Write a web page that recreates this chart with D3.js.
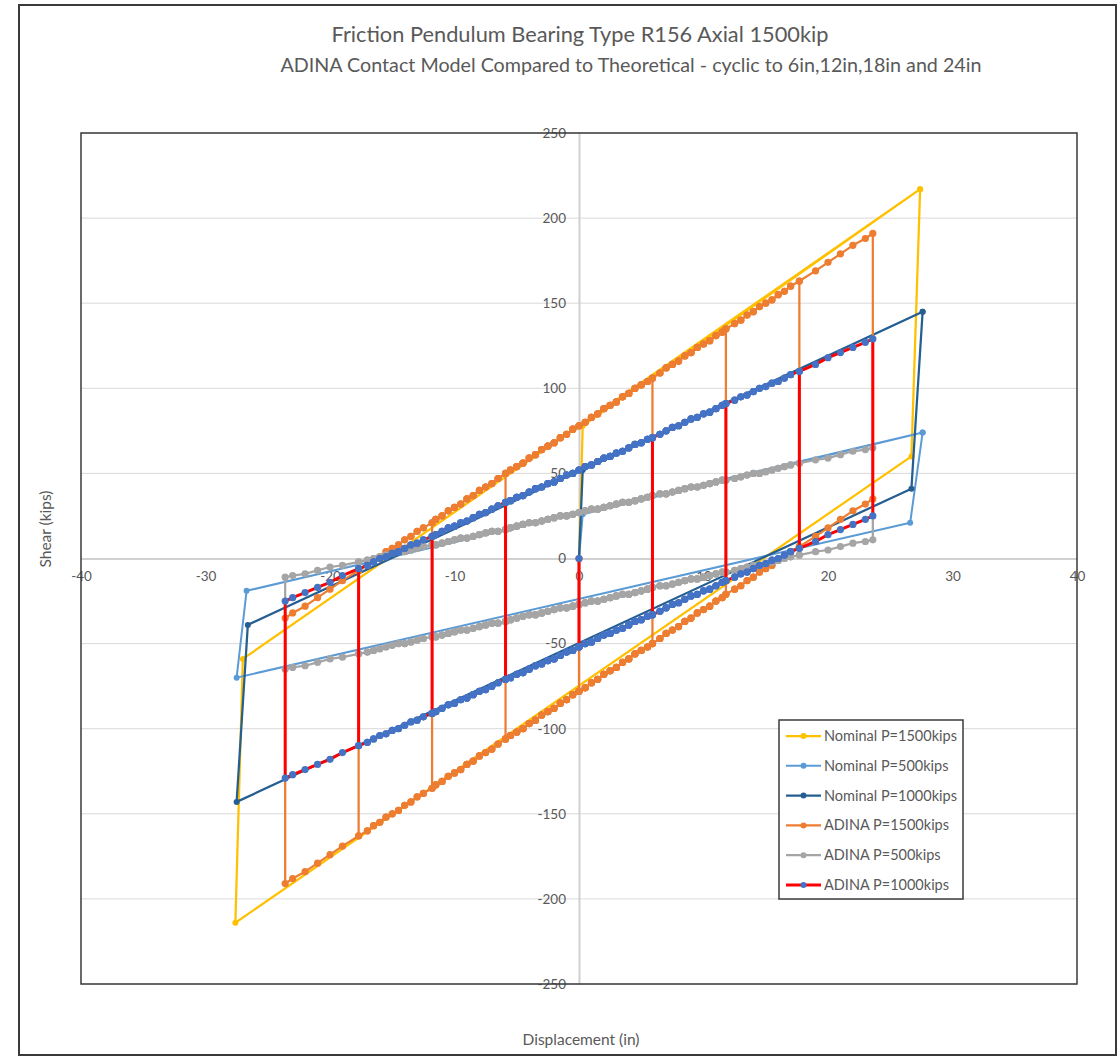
<!DOCTYPE html>
<html>
<head>
<meta charset="utf-8">
<script src="https://cdn.jsdelivr.net/npm/d3@7"></script>
<style>
  body { margin: 0; background: #fff; }
  text { font-family: Lato, "Open Sans", sans-serif; fill: #595959; }
</style>
</head>
<body>
<svg width="1118" height="1057"></svg>
<script>
// Nominal (theoretical) loops: corner points only
var nominalDisp1500 = [0, 0.3, 27.4, 26.7, -27.6, -27.0, 27.4];
var nominalShear1500 = [0, 78, 217, 60, -214, -59, 217];
var nominalDisp500 = [0, 0.3, 27.6, 26.6, -27.5, -26.7, 27.6];
var nominalShear500 = [0, 26, 74, 21, -70, -19, 74];
var nominalDisp1000 = [0, 0.3, 27.6, 26.7, -27.5, -26.6, 27.6];
var nominalShear1000 = [0, 52, 145, 41, -143, -39, 145];

// ADINA runs: cyclic amplitudes and the shear read on each branch at the sampled displacements
var adinaAmps = [5.9, 11.8, 17.7, 23.6];
var adinaDisp = [-23.6, -23, -22, -21, -20, -19, -17.7, -17, -16.5, -16, -15.5, -15, -14.5, -14, -13.5, -13, -12.5,
    -11.8, -11.5, -11, -10.5, -10, -9.5, -9, -8.5, -8, -7.5, -7, -6.5, -5.9, -5.5, -5, -4.5, -4, -3.5, -3, -2.5, -2,
    -1.5, -1, -0.5, 0, 0.5, 1, 1.5, 2, 2.5, 3, 3.5, 4, 4.5, 5, 5.5, 5.9, 6.5, 7, 7.5, 8, 8.5, 9, 9.5, 10, 10.5, 11,
    11.5, 11.8, 12.5, 13, 13.5, 14, 14.5, 15, 15.5, 16, 16.5, 17, 17.7, 19, 20, 21, 22, 23, 23.6];
var adina1500Upper = [-35, -32, -28, -23, -18, -13, -7, -4, -1, 1, 4, 6, 8, 11, 13, 16, 18, 21, 23, 25, 28, 30, 32, 35,
    37, 40, 42, 44, 47, 50, 52, 54, 56, 59, 61, 64, 66, 68, 71, 73, 76, 78, 80, 83, 85, 88, 90, 92, 95, 97, 100, 102, 104,
    106, 109, 112, 114, 116, 119, 121, 124, 126, 128, 131, 133, 135, 138, 140, 143, 145, 148, 150, 152, 155, 157, 160,
    163, 169, 174, 179, 184, 188, 191];
var adina1500Lower = [-191, -188, -184, -179, -174, -169, -163, -160, -157, -155, -152, -150, -148, -145, -143, -140, -138,
    -135, -133, -131, -128, -126, -124, -121, -119, -116, -114, -112, -109, -106, -104, -102, -100, -97, -95, -92, -90, -88,
    -85, -83, -80, -78, -76, -73, -71, -68, -66, -64, -61, -59, -56, -54, -52, -50, -47, -44, -42, -40, -37, -35, -32, -30,
    -28, -25, -23, -21, -18, -16, -13, -11, -8, -6, -4, -1, 1, 4, 7, 13, 18, 23, 28, 32, 35];
var adina500Upper = [-11, -10, -9, -7, -5, -4, -2, -1, 0, 1, 2, 3, 4, 4, 5, 6, 7, 8, 8, 9, 10, 11, 12, 12, 13, 14, 15, 16,
    16, 17, 18, 19, 20, 21, 21, 22, 23, 24, 25, 25, 26, 27, 28, 29, 29, 30, 31, 32, 33, 33, 34, 35, 36, 37, 38, 38, 39, 40,
    41, 42, 42, 43, 44, 45, 46, 46, 47, 48, 49, 50, 50, 51, 52, 53, 54, 55, 56, 58, 59, 61, 63, 64, 65];
var adina500Lower = [-65, -64, -63, -61, -59, -58, -56, -55, -54, -53, -52, -51, -50, -50, -49, -48, -47, -46, -46, -45, -44,
    -43, -42, -42, -41, -40, -39, -38, -38, -37, -36, -35, -34, -33, -33, -32, -31, -30, -29, -29, -28, -27, -26, -25, -25,
    -24, -23, -22, -21, -21, -20, -19, -18, -17, -16, -16, -15, -14, -13, -12, -12, -11, -10, -9, -8, -8, -7, -6, -5, -4,
    -4, -3, -2, -1, 0, 1, 2, 4, 5, 7, 9, 10, 11];
var adina1000Upper = [-25, -23, -20, -17, -14, -10, -6, -4, -2, 0, 1, 3, 4, 6, 8, 9, 11, 13, 14, 16, 18, 19, 21, 22, 24,
    26, 27, 29, 31, 33, 34, 36, 37, 39, 41, 42, 44, 45, 47, 49, 50, 52, 54, 55, 57, 59, 60, 62, 63, 65, 67, 68, 70, 71, 73,
    75, 77, 78, 80, 82, 83, 85, 86, 88, 90, 91, 93, 95, 96, 98, 100, 101, 103, 104, 106, 108, 110, 114, 118, 121, 124,
    127, 129];
var adina1000Lower = [-129, -127, -124, -121, -118, -114, -110, -108, -106, -104, -103, -101, -100, -98, -96, -95, -93, -91,
    -90, -88, -86, -85, -83, -82, -80, -78, -77, -75, -73, -71, -70, -68, -67, -65, -63, -62, -60, -59, -57, -55, -54, -52,
    -50, -49, -47, -45, -44, -42, -41, -39, -37, -36, -34, -33, -31, -29, -27, -26, -24, -22, -21, -19, -18, -16, -14, -13,
    -11, -9, -8, -6, -4, -3, -1, 0, 2, 4, 6, 10, 14, 17, 20, 23, 25];

var seriesNames = ["Nominal P=1500kips", "Nominal P=500kips", "Nominal P=1000kips",
    "ADINA P=1500kips", "ADINA P=500kips", "ADINA P=1000kips"];
var xTicks = [-40, -30, -20, -10, 0, 10, 20, 30, 40];
var yTicks = [-250, -200, -150, -100, -50, 0, 50, 100, 150, 200, 250];

(function() {
var svg = d3.select("svg");

var pLeft = 81, pRight = 1077, pTop = 133, pBottom = 984;
var x = d3.scaleLinear().domain([-40, 40]).range([pLeft, pRight]);
var y = d3.scaleLinear().domain([-250, 250]).range([pBottom, pTop]);

// outer chart border
svg.append("rect").attr("x", 19).attr("y", 5).attr("width", 1097).attr("height", 1050)
    .attr("fill", "#fff").attr("stroke", "#3a3a3a").attr("stroke-width", 2);

// titles
svg.append("text").attr("x", 580).attr("y", 42).attr("text-anchor", "middle").attr("font-size", 20.5)
    .attr("textLength", 497).attr("lengthAdjust", "spacingAndGlyphs")
    .text("Friction Pendulum Bearing Type R156 Axial 1500kip");
svg.append("text").attr("x", 631).attr("y", 72).attr("text-anchor", "middle").attr("font-size", 20)
    .attr("textLength", 701).attr("lengthAdjust", "spacingAndGlyphs")
    .text("ADINA Contact Model Compared to Theoretical - cyclic to 6in,12in,18in and 24in");

// gridlines
svg.append("g").selectAll("line").data(yTicks).enter().append("line")
    .attr("x1", pLeft).attr("x2", pRight)
    .attr("y1", d => y(d)).attr("y2", d => y(d))
    .attr("stroke", "#d9d9d9").attr("stroke-width", 1);

// axes through the origin
var xAxis = svg.append("g").attr("transform", "translate(0," + y(0) + ")")
    .call(d3.axisBottom(x).tickValues(xTicks).tickFormat(d => String(d)).tickSize(0).tickPadding(13));
var yAxis = svg.append("g").attr("transform", "translate(" + x(0) + ",0)")
    .call(d3.axisLeft(y).tickValues(yTicks).tickFormat(d => String(d)).tickSize(0).tickPadding(13));
[xAxis, yAxis].forEach(function(a) {
    a.select(".domain").attr("stroke", "#d0d0d0").attr("stroke-width", 2);
    a.selectAll("text").attr("font-family", "Lato, sans-serif").attr("font-size", 13.5).attr("fill", "#595959");
});

// plot area border
svg.append("rect").attr("x", pLeft).attr("y", pTop).attr("width", pRight - pLeft).attr("height", pBottom - pTop)
    .attr("fill", "none").attr("stroke", "#3a3a3a").attr("stroke-width", 1.5);

// axis titles
svg.append("text").attr("transform", "translate(51,529) rotate(-90)").attr("text-anchor", "middle")
    .attr("font-size", 15.5).text("Shear (kips)");
svg.append("text").attr("x", 581).attr("y", 1045).attr("text-anchor", "middle")
    .attr("font-size", 15.5).text("Displacement (in)");

function zipPts(xs, ys) {
    return xs.map((d, i) => [d, ys[i]]);
}

// walk the branches: start at 0, go negative first, alternate through the amplitudes, return to 0
function buildLoop(upper, lower) {
    var pts = [[0, 0]];
    var turns = [];
    adinaAmps.forEach(a => { turns.push(-a); turns.push(a); });
    turns.push(0);
    var pos = 0;
    turns.forEach(function(t) {
        var down = t < pos;
        var lo = Math.min(pos, t), hi = Math.max(pos, t);
        var idx = d3.range(adinaDisp.length).filter(i => adinaDisp[i] >= lo && adinaDisp[i] <= hi);
        if (down) idx.reverse();
        idx.forEach(i => pts.push([adinaDisp[i], down ? lower[i] : upper[i]]));
        pos = t;
    });
    return pts;
}

var series = [
    { name: seriesNames[0], pts: zipPts(nominalDisp1500, nominalShear1500), line: "#ffc000", marker: "#ffc000", w: 2.25, r: 3 },
    { name: seriesNames[1], pts: zipPts(nominalDisp500, nominalShear500), line: "#5b9bd5", marker: "#5b9bd5", w: 2, r: 3 },
    { name: seriesNames[2], pts: zipPts(nominalDisp1000, nominalShear1000), line: "#255e91", marker: "#255e91", w: 2.25, r: 3 },
    { name: seriesNames[3], pts: buildLoop(adina1500Upper, adina1500Lower), line: "#ed7d31", marker: "#ed7d31", w: 2.25, r: 3.6 },
    { name: seriesNames[4], pts: buildLoop(adina500Upper, adina500Lower), line: "#a5a5a5", marker: "#a5a5a5", w: 2.25, r: 3.6 },
    { name: seriesNames[5], pts: buildLoop(adina1000Upper, adina1000Lower), line: "#ff0000", marker: "#4472c4", w: 3, r: 3.6 }
];

var line = d3.line().x(d => x(d[0])).y(d => y(d[1]));

series.forEach(function(s) {
    var g = svg.append("g");
    g.append("path").datum(s.pts).attr("d", line)
        .attr("fill", "none").attr("stroke", s.line).attr("stroke-width", s.w)
        .attr("stroke-linejoin", "round");
    g.selectAll("circle").data(s.pts).enter().append("circle")
        .attr("cx", d => x(d[0])).attr("cy", d => y(d[1])).attr("r", s.r)
        .attr("fill", s.marker);
});

// legend
var legend = svg.append("g");
legend.append("rect").attr("x", 779).attr("y", 720).attr("width", 184).attr("height", 179)
    .attr("fill", "#fff").attr("stroke", "#3a3a3a").attr("stroke-width", 1.5);
var items = legend.selectAll("g.item").data(series).enter().append("g")
    .attr("class", "item")
    .attr("transform", (d, i) => "translate(0," + (736 + i * 29.8) + ")");
items.append("line").attr("x1", 786).attr("x2", 821).attr("y1", 0).attr("y2", 0)
    .attr("stroke", d => d.line).attr("stroke-width", d => d.w);
items.append("circle").attr("cx", 803.5).attr("cy", 0).attr("r", 3).attr("fill", d => d.marker);
items.append("text").attr("x", 824).attr("y", 0).attr("dy", "0.35em").attr("font-size", 14.5)
    .text(d => d.name);
})();
</script>
</body>
</html>
